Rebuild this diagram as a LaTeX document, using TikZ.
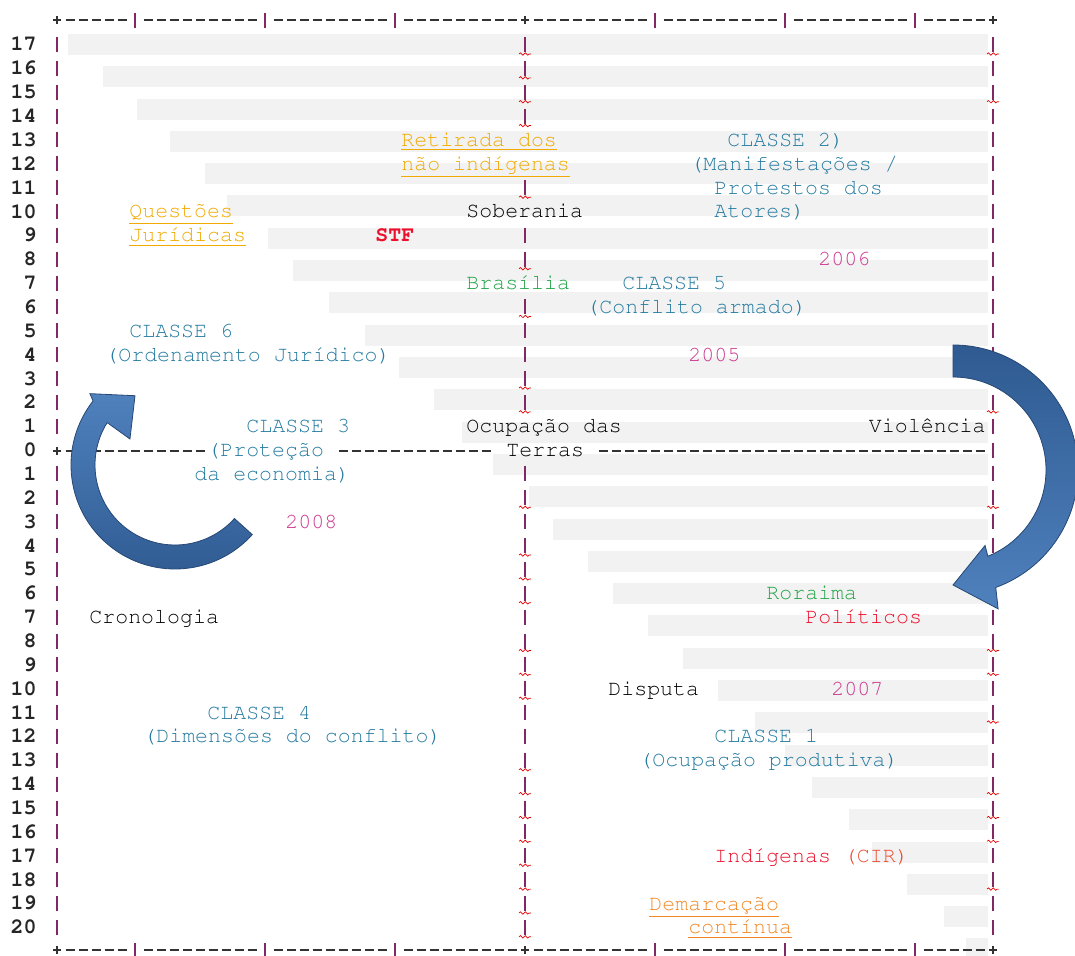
\documentclass[tikz,border=0pt]{standalone}
\usepackage[T1]{fontenc}
\usetikzlibrary{decorations.pathmorphing}

\definecolor{classeblue}{RGB}{36,122,160}
\definecolor{goldund}{RGB}{240,170,0}
\definecolor{orangeund}{RGB}{240,136,40}
\definecolor{yearpink}{RGB}{204,52,140}
\definecolor{placegreen}{RGB}{34,164,70}
\definecolor{actorred}{RGB}{236,16,44}
\definecolor{cirorange}{RGB}{236,76,44}
\definecolor{pipepurple}{RGB}{130,40,100}
\definecolor{bargray}{RGB}{242,242,242}
\definecolor{arrowlight}{RGB}{79,129,189}
\definecolor{arrowdark}{RGB}{47,90,145}

\newcommand{\courier}{\fontfamily{pcr}\fontsize{10.8}{13}\selectfont}

\begin{document}
\begin{tikzpicture}[x=0.5pt, y=-0.5pt,
    txt/.style={font=\courier, inner sep=0pt, anchor=base west},
    num/.style={font=\courier\bfseries, inner sep=0pt, anchor=base east, black!85},
    pipe/.style={pipepurple, line width=0.9pt},
    dashln/.style={black!80, line width=0.7pt, dash pattern=on 4.5pt off 2pt},
    squig/.style={red!90!black, line width=0.35pt, decorate, decoration={snake, amplitude=0.6pt, segment length=2.4pt}},
    bigarrow/.style={draw=arrowdark!80!black, line width=0.4pt}]

\useasboundingbox (0,0) rectangle (1075,956);

% Gray staircase bars
\foreach \j/\xs in {0/68, 1/103, 2/137, 3/170, 4/205, 5/227, 6/268, 7/293, 8/329, 9/365,
    10/399, 11/434, 12/462, 13/493, 14/529, 15/553, 16/588, 17/613, 18/648, 19/683,
    20/718, 21/755, 22/785, 23/812, 24/849, 25/872, 26/907, 27/944, 28/966} {
    \fill[bargray] (\xs, {34+32.3*\j}) rectangle (988, {55+32.3*\j});
}

% Row numbers
\foreach \k/\lbl in {0/17, 1/16, 2/15, 3/14, 4/13, 5/12, 6/11, 7/10, 8/9, 9/8, 10/7, 11/6,
    12/5, 13/4, 14/3, 15/2, 16/1, 17/0, 18/1, 19/2, 20/3, 21/4, 22/5, 23/6, 24/7, 25/8,
    26/9, 27/10, 28/11, 29/12, 30/13, 31/14, 32/15, 33/16, 34/17, 35/18, 36/19, 37/20} {
    \node[num] (n\k) at (37, {51+23.86*\k}) {\lbl};
}

% Pipes: left, centre, right columns
\foreach \k in {0,...,16,18,19,...,37}
    \draw[pipe] (57, {37+23.86*\k}) -- (57, {52+23.86*\k});
\foreach \k in {0,1,2,3,6,8,9,11,12,13,14,15,18,19,...,37}
    \draw[pipe] (525, {37+23.86*\k}) -- (525, {52+23.86*\k});
\foreach \k in {0,...,37}
    \draw[pipe] (993, {37+23.86*\k}) -- (993, {52+23.86*\k});

% Spell-check squiggles
\foreach \k in {0,1,2,3,6,9,11,14,15,19,21,22,23,25,26,27,30,31,...,37}
    \draw[squig] (519, {54+23.86*\k}) -- (531, {54+23.86*\k});
\foreach \k in {0,2,15,19,25,26,28,31,32,33,35}
    \draw[squig] (987, {54+23.86*\k}) -- (999, {54+23.86*\k});

% Top and bottom axes
\foreach \a/\b in {57/135, 135/265, 265/395, 395/525, 525/655, 655/785, 785/915, 915/993} {
    \draw[dashln] (\a+8.5,20) -- (\b-8.5,20);
    \draw[dashln] (\a+8.5,950) -- (\b-8.5,950);
}
\foreach \x in {135,265,395,655,785,915} {
    \draw[pipe] (\x,13) -- (\x,28);
    \draw[pipe] (\x,943) -- (\x,958);
}
\foreach \x/\y in {57/20, 525/20, 993/20, 57/950, 525/950, 993/950, 57/451}
    \draw[black!80, line width=0.7pt] (\x-4,\y) -- (\x+4,\y) (\x,\y-4) -- (\x,\y+4);

% Row 0 line
\draw[dashln] (65.5,451) -- (204.5,451);
\draw[dashln] (338.5,451) -- (490.5,451);
\draw[dashln] (598.5,451) -- (984.5,451);

% Upper half
\node[txt, goldund] (retirada) at (401,146.4) {\underline{Retirada dos}};
\node[txt, goldund] (naoind) at (401,170.3) {\underline{não indígenas}};
\node[txt, classeblue] (classe2) at (727,146.4) {CLASSE 2)};
\node[txt, classeblue] (manif) at (690,170.3) {(Manifestações /};
\node[txt, classeblue] (protestos) at (714,194.2) {Protestos dos};
\node[txt, classeblue] (atores) at (714,218.0) {Atores)};
\node[txt, goldund] (questoes) at (129,218.0) {\underline{Questões}};
\node[txt, goldund] (juridicas) at (129,241.9) {\underline{Jurídicas}};
\node[txt] (soberania) at (466,218.0) {Soberania};
\node[txt, actorred, font=\courier\bfseries] (stf) at (375,241.9) {STF};
\node[txt, yearpink] (y2006) at (818,265.7) {2006};
\node[txt, placegreen] (brasilia) at (466,289.6) {Brasília};
\node[txt, classeblue] (classe5) at (622,289.6) {CLASSE 5};
\node[txt, classeblue] (conflito) at (586,313.5) {(Conflito armado)};
\node[txt, classeblue] (classe6) at (129,337.3) {CLASSE 6};
\node[txt, classeblue] (ordenamento) at (105,361.2) {(Ordenamento Jurídico)};
\node[txt, yearpink] (y2005) at (688,361.2) {2005};
\node[txt, classeblue] (classe3) at (246,432.8) {CLASSE 3};
\node[txt] (ocupacao) at (466,432.8) {Ocupação das};
\node[txt, anchor=base east] (violencia) at (986,432.8) {Violência};

% Middle and lower half
\node[txt, classeblue] (protecao) at (207,456.6) {(Proteção};
\node[txt] (terras) at (506,456.6) {Terras};
\node[txt, classeblue] (economia) at (194,480.5) {da economia)};
\node[txt, yearpink] (y2008) at (285,528.2) {2008};
\node[txt, placegreen] (roraima) at (766,599.8) {Roraima};
\node[txt] (cronologia) at (89,623.6) {Cronologia};
\node[txt, actorred] (politicos) at (805,623.6) {Políticos};
\node[txt] (disputa) at (608,695.2) {Disputa};
\node[txt, yearpink] (y2007) at (831,695.2) {2007};
\node[txt, classeblue] (classe4) at (207,719.1) {CLASSE 4};
\node[txt, classeblue] (dimensoes) at (143,742.9) {(Dimensões do conflito)};
\node[txt, classeblue] (classe1) at (714,742.9) {CLASSE 1};
\node[txt, classeblue] (produtiva) at (639,766.8) {(Ocupação produtiva)};
\node[txt, actorred] (indigenas) at (714,862.2) {Indígenas {\color{cirorange}(CIR)}};
\node[txt, orangeund] (demarcacao) at (649,910.0) {\underline{Demarcação}};
\node[txt, orangeund] (continua) at (688,933.8) {\underline{contínua}};

% Curved block arrows
\path[bigarrow, top color=arrowlight, bottom color=arrowdark]
    ({175+104*cos(42)}, {465+104*sin(42)}) arc[start angle=42, end angle=218, radius=104]
    -- ({175+111*cos(220)}, {465+111*sin(220)})
    -- ({175+80*cos(240)}, {465+80*sin(240)})
    -- ({175+52*cos(210)}, {465+52*sin(210)})
    -- ({175+80*cos(212)}, {465+80*sin(212)})
    arc[start angle=212, end angle=42, radius=80] -- cycle;
\path[bigarrow, top color=arrowdark, bottom color=arrowlight]
    (953,345) arc[start angle=-90, end angle=70, radius=125]
    -- ({953+146*cos(72)}, {470+146*sin(72)})
    -- ({953+115*cos(90)}, {470+115*sin(90)})
    -- ({953+82*cos(67)}, {470+82*sin(67)})
    -- ({953+93*cos(68)}, {470+93*sin(68)})
    arc[start angle=68, end angle=-90, radius=93] -- cycle;
\end{tikzpicture}
\end{document}
